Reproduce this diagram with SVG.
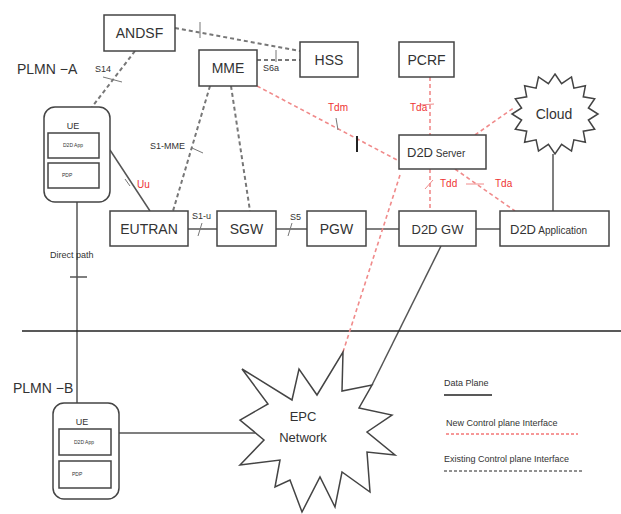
<svg xmlns="http://www.w3.org/2000/svg" width="621" height="514" viewBox="0 0 621 514">
<style>
.box{fill:#fff;stroke:#444;stroke-width:1.5}
.t{font-family:"Liberation Sans",Arial,sans-serif;fill:#333}
.big{font-size:14px}
.med{font-size:12px}
.sm{font-size:9px}
.tiny{font-size:5px}
.red{fill:#e33;font-family:"Liberation Sans",Arial,sans-serif;font-size:10px}
.solid{stroke:#555;stroke-width:1.5;fill:none}
.gd{stroke:#777;stroke-width:2;stroke-dasharray:4 3;fill:none}
.rd{stroke:#f08a8a;stroke-width:1.6;stroke-dasharray:4 3;fill:none}
.tick{stroke:#777;stroke-width:1;fill:none}
</style>
<rect width="621" height="514" fill="#fff"/>
<g id="connectors">
<line class="gd" x1="175" y1="28" x2="300" y2="51"/>
<line class="tick" x1="200" y1="22" x2="200" y2="38"/>
<line class="gd" x1="257" y1="60" x2="300" y2="60"/>
<line class="tick" x1="276" y1="50" x2="276" y2="62"/>
<line class="gd" x1="135" y1="51" x2="92" y2="107"/>
<line class="tick" x1="103" y1="77" x2="122" y2="82"/>
<line class="gd" x1="210" y1="86" x2="173" y2="211"/>
<line class="tick" x1="192" y1="148" x2="203" y2="153"/>
<line class="gd" x1="231" y1="86" x2="250" y2="211"/>
<line class="solid" x1="110" y1="150" x2="150" y2="211"/>
<line class="tick" x1="125" y1="179" x2="130" y2="186"/>
<line class="solid" x1="188" y1="229" x2="217" y2="229"/>
<line class="tick" x1="198" y1="236" x2="202" y2="223"/>
<line class="solid" x1="276" y1="229" x2="307" y2="229"/>
<line class="tick" x1="288" y1="236" x2="292" y2="223"/>
<line class="solid" x1="366" y1="229" x2="399" y2="229"/>
<line class="solid" x1="476" y1="229" x2="500" y2="229"/>
<line class="solid" x1="553" y1="154" x2="553" y2="211"/>
<line class="solid" x1="441" y1="246" x2="372" y2="385"/>
<line class="solid" x1="77" y1="202" x2="77" y2="403"/>
<line class="solid" x1="70" y1="277" x2="87" y2="277"/>
<line class="solid" x1="119" y1="433" x2="255" y2="433"/>
<line x1="22" y1="331" x2="621" y2="331" stroke="#222" stroke-width="1.5"/>
<line class="rd" x1="257" y1="86" x2="399" y2="161"/>
<line class="tick" x1="336" y1="118" x2="338" y2="130"/>
<line x1="357" y1="136" x2="357" y2="152" stroke="#222" stroke-width="2"/>
<line class="rd" x1="430" y1="77" x2="430" y2="135"/>
<line x1="420" y1="105" x2="434" y2="104" stroke="#f08a8a" stroke-width="1"/>
<line class="rd" x1="475" y1="135" x2="515" y2="107"/>
<line class="rd" x1="430" y1="169" x2="430" y2="211"/>
<line x1="425" y1="189" x2="433" y2="180" stroke="#f08a8a" stroke-width="1"/>
<line class="rd" x1="455" y1="169" x2="515" y2="211"/>
<line x1="466" y1="184" x2="484" y2="184" stroke="#f08a8a" stroke-width="1"/>
<line class="rd" x1="400" y1="175" x2="343" y2="352"/>
</g>
<g id="plmn-labels">
<text class="t big" x="17" y="74">PLMN −A</text>
<text class="t big" x="13" y="393">PLMN −B</text>
</g>
<g id="andsf"><rect class="box" x="104" y="15" width="71" height="36"/><text class="t big" x="139.5" y="38" text-anchor="middle">ANDSF</text></g>
<g id="mme"><rect class="box" x="199" y="50" width="58" height="36"/><text class="t big" x="228" y="73" text-anchor="middle">MME</text></g>
<g id="hss"><rect class="box" x="300" y="42" width="58" height="35"/><text class="t big" x="329" y="65" text-anchor="middle">HSS</text></g>
<g id="pcrf"><rect class="box" x="399" y="42" width="55" height="35"/><text class="t big" x="426.5" y="65" text-anchor="middle">PCRF</text></g>
<g id="cloud"><polygon class="box" points="555,74 561.6,83.6 571.5,77 573.9,88.2 585.4,85.7 583.3,96.8 594.7,98.7 588.4,108 598,114 588.4,120 594.7,129.3 583.3,131.2 585.4,142.3 573.9,139.8 571.5,151 561.6,144.4 555,154 548.4,144.4 538.5,151 536.1,139.8 524.6,142.3 526.7,131.2 515.3,129.3 521.6,120 512,114 521.6,108 515.3,98.7 526.7,96.8 524.6,85.7 536.1,88.2 538.5,77 548.4,83.6"/><text class="t big" x="554" y="119" text-anchor="middle">Cloud</text></g>
<g id="d2d-server"><rect class="box" x="399" y="135" width="87" height="34"/><text class="t" x="407" y="157"><tspan font-size="13">D2D</tspan><tspan font-size="10"> Server</tspan></text></g>
<g id="eutran"><rect class="box" x="110" y="211" width="78" height="35"/><text class="t big" x="149" y="234" text-anchor="middle">EUTRAN</text></g>
<g id="sgw"><rect class="box" x="217" y="211" width="59" height="35"/><text class="t big" x="246.5" y="234" text-anchor="middle">SGW</text></g>
<g id="pgw"><rect class="box" x="307" y="211" width="59" height="35"/><text class="t big" x="336.5" y="234" text-anchor="middle">PGW</text></g>
<g id="d2d-gw"><rect class="box" x="399" y="211" width="77" height="35"/><text class="t" x="437.5" y="234" text-anchor="middle" font-size="13">D2D GW</text></g>
<g id="d2d-app"><rect class="box" x="500" y="211" width="109" height="35"/><text class="t" x="510" y="234"><tspan font-size="13">D2D</tspan><tspan font-size="10"> Application</tspan></text></g>
<g id="ue-a"><rect class="box" x="44" y="107" width="66" height="95" rx="11"/><text class="t sm" x="73" y="129" text-anchor="middle">UE</text><rect class="box" x="48" y="133" width="51" height="25" stroke-width="1.2"/><text class="t tiny" x="73" y="147" text-anchor="middle">D2D App</text><rect class="box" x="48" y="163" width="51" height="25" stroke-width="1.2"/><text class="t tiny" x="62" y="177">PDP</text></g>
<g id="ue-b"><rect class="box" x="53" y="403" width="66" height="96" rx="11"/><text class="t sm" x="82" y="425" text-anchor="middle">UE</text><rect class="box" x="59" y="429" width="52" height="26" stroke-width="1.2"/><text class="t tiny" x="84" y="444" text-anchor="middle">D2D App</text><rect class="box" x="59" y="461" width="52" height="27" stroke-width="1.2"/><text class="t tiny" x="72" y="476">PDP</text></g>
<g id="epc"><polygon class="box" points="242,369 292,400 299,369 317,395 343,352 342,391 372,385 359,408 392,415 367,432 395,455 367,452 370,492 342,472 335,507 320,477 302,512 290,480 275,487 280,460 240,465 264,440 240,420 268,404"/><text class="t" font-size="13" x="303" y="421" text-anchor="middle">EPC</text><text class="t" font-size="13" x="303" y="442" text-anchor="middle">Network</text></g>
<g id="interface-labels">
<text class="t sm" x="95" y="72">S14</text>
<text class="t sm" x="263" y="71">S6a</text>
<text class="t sm" x="150" y="149">S1-MME</text>
<text class="t sm" x="192" y="219">S1-u</text>
<text class="t sm" x="290" y="220">S5</text>
<text class="t sm" x="50" y="258">Direct path</text>
<text class="red" x="137" y="188">Uu</text>
<text class="red" x="328" y="111">Tdm</text>
<text class="red" x="410" y="111">Tda</text>
<text class="red" x="440" y="187">Tdd</text>
<text class="red" x="495" y="187">Tda</text>
</g>
<g id="legend">
<text class="t sm" x="444" y="386">Data Plane</text>
<line x1="444" y1="395" x2="492" y2="395" stroke="#222" stroke-width="1.5"/>
<text class="t sm" x="446" y="426">New Control plane Interface</text>
<line x1="446" y1="434" x2="578" y2="434" stroke="#e33" stroke-width="1" stroke-dasharray="3 2"/>
<text class="t sm" x="444" y="462">Existing Control plane Interface</text>
<line x1="444" y1="471" x2="584" y2="471" stroke="#222" stroke-width="1" stroke-dasharray="3 2"/>
</g>
</svg>
